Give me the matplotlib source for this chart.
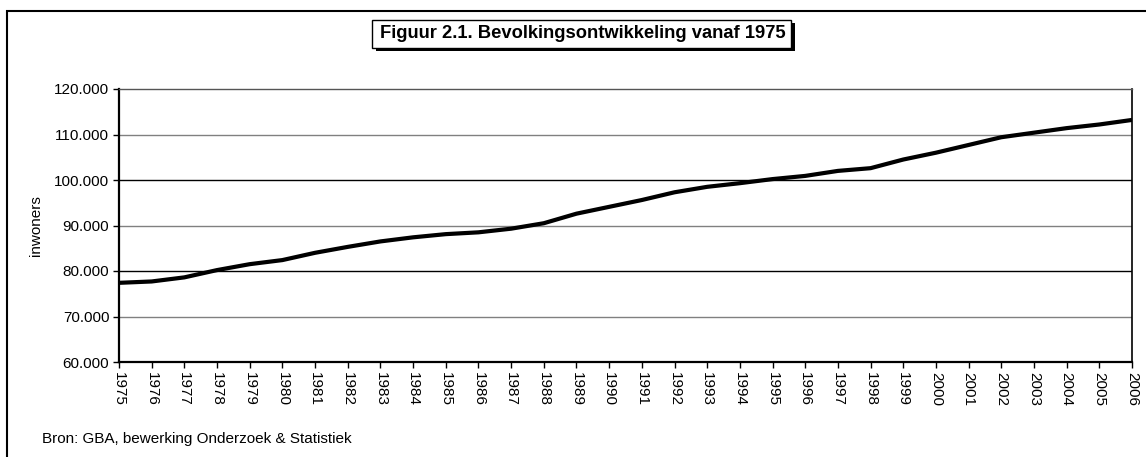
import numpy as np
import matplotlib.pyplot as plt
from matplotlib.patches import Rectangle
from matplotlib.ticker import FuncFormatter

# Bevolkingsontwikkeling vanaf 1975 (inwoners per 1 januari)
years = list(range(1975, 2007))
inwoners = [77400, 77700, 78600, 80200, 81500, 82400, 84000, 85300,
            86500, 87400, 88100, 88500, 89300, 90500, 92600, 94100,
            95600, 97300, 98500, 99300, 100200, 100900, 102000, 102600,
            104500, 106000, 107700, 109400, 110400, 111400, 112200, 113200]

title = "Figuur 2.1. Bevolkingsontwikkeling vanaf 1975"
ylabel = "inwoners"
source = "Bron: GBA, bewerking Onderzoek & Statistiek"

plt.rcParams["font.family"] = ["Liberation Sans", "DejaVu Sans"]

W, H = 1146, 457
fig = plt.figure(figsize=(W / 100, H / 100), dpi=100)


def px(x0, y0, x1, y1):
    # pixel box -> figure fraction [left, bottom, width, height]
    return [x0 / W, 1 - y1 / H, (x1 - x0) / W, (y1 - y0) / H]


ax = fig.add_axes(px(119, 89, 1132, 362))
ax.plot(years, inwoners, color="black", lw=3.0, solid_capstyle="butt", zorder=3)

ax.set_xlim(1975, 2006)
ax.set_ylim(60000, 120000)
ax.set_xticks(years)
ax.set_xticklabels([str(y) for y in years], rotation=270, fontsize=11)
yt = np.arange(60000, 120001, 10000)
ax.set_yticks(yt)
ax.yaxis.set_major_formatter(FuncFormatter(lambda v, p: f"{int(v):,}".replace(",", ".")))
ax.tick_params(axis="y", labelsize=11, length=4, width=1, pad=3)
ax.tick_params(axis="x", length=4, width=1, pad=3)

# horizontal gridlines, alternately black and grey as in the original
for i, v in enumerate(yt[1:-1]):
    ax.axhline(v, color="black" if i % 2 == 1 else "#808080", lw=1, zorder=1)

ax.spines["left"].set_linewidth(1.6)
ax.spines["bottom"].set_linewidth(1.6)
ax.spines["top"].set_linewidth(1)
ax.spines["top"].set_color("#555555")
ax.spines["right"].set_linewidth(1.2)
ax.set_ylabel(ylabel, fontsize=11, labelpad=8)

# outer frame (runs off the right and bottom edge)
fig.patches.append(Rectangle((7 / W, -0.1), 1.2, 1 - 11 / H + 0.1,
                             transform=fig.transFigure, fill=False,
                             edgecolor="black", lw=1.5))

# title box with drop shadow
l, b, w, h = px(376, 23, 795, 51)
fig.patches.append(Rectangle((l, b), w, h, transform=fig.transFigure,
                             facecolor="black", edgecolor="black", lw=0))
l, b, w, h = px(372, 20, 791, 48)
fig.patches.append(Rectangle((l, b), w, h, transform=fig.transFigure,
                             facecolor="white", edgecolor="black", lw=1))
fig.text(l + w / 2 + 1 / W, b + h / 2, title, ha="center", va="center",
         fontsize=13.2, fontweight="bold")

fig.text(42 / W, 1 - 439 / H, source, ha="left", va="center", fontsize=11)

fig.savefig("out.png", dpi=100, facecolor="white")
